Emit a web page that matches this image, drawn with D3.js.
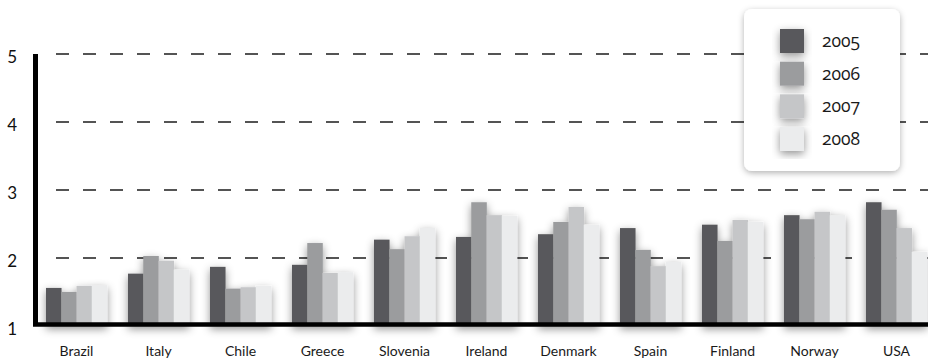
<!DOCTYPE html>
<html>
<head>
<meta charset="utf-8">
<script src="https://cdn.jsdelivr.net/npm/d3@7"></script>
<style>
  html, body { margin: 0; padding: 0; background: #ffffff; }
  svg { display: block; }
</style>
</head>
<body>
<svg id="chart" width="928" height="362"></svg>
<script>
// Countries along the x axis
const countries = ["Brazil", "Italy", "Chile", "Greece", "Slovenia", "Ireland",
                   "Denmark", "Spain", "Finland", "Norway", "USA"];
// Series (one per year)
const years = ["2005", "2006", "2007", "2008"];
const values2005 = [1.56, 1.77, 1.87, 1.90, 2.27, 2.31, 2.35, 2.44, 2.49, 2.63, 2.82];
const values2006 = [1.50, 2.03, 1.55, 2.22, 2.13, 2.82, 2.53, 2.12, 2.25, 2.57, 2.71];
const values2007 = [1.59, 1.96, 1.57, 1.78, 2.32, 2.63, 2.75, 1.88, 2.56, 2.68, 2.44];
const values2008 = [1.60, 1.83, 1.59, 1.79, 2.44, 2.62, 2.49, 1.94, 2.53, 2.63, 2.09];
const yTicks = [1, 2, 3, 4, 5];
const seriesColors = ["#59595b", "#9b9c9e", "#c5c6c8", "#ebeced"];

const seriesValues = [values2005, values2006, values2007, values2008];
const rows = countries.map((c, i) => ({
  country: c,
  vals: years.map((yr, k) => ({ year: yr, value: seriesValues[k][i] }))
}));

const svg = d3.select("#chart");
const W = 928;

const x = d3.scaleBand().domain(countries).range([35.5, 937.5])
  .paddingInner(0.256).paddingOuter(0.128);
const xs = d3.scaleBand().domain(years).range([0, x.bandwidth()]);
const y = d3.scaleLinear().domain([1, 5]).range([326, 54]);
const color = d3.scaleOrdinal().domain(years).range(seriesColors);

// Soft shadows
const defs = svg.append("defs");
const sh = defs.append("filter").attr("id", "barShadow")
  .attr("x", "-30%").attr("y", "-30%").attr("width", "160%").attr("height", "160%");
sh.append("feDropShadow").attr("dx", 0).attr("dy", 3).attr("stdDeviation", 4)
  .attr("flood-color", "#000").attr("flood-opacity", 0.42);
const lsh = defs.append("filter").attr("id", "boxShadow")
  .attr("x", "-20%").attr("y", "-20%").attr("width", "140%").attr("height", "140%");
lsh.append("feDropShadow").attr("dx", 0).attr("dy", 2).attr("stdDeviation", 3)
  .attr("flood-color", "#000").attr("flood-opacity", 0.3);

// Dashed gridlines
svg.append("g").selectAll("line").data(yTicks.slice(1)).join("line")
  .attr("x1", 56).attr("x2", W)
  .attr("y1", d => y(d)).attr("y2", d => y(d))
  .attr("stroke", "#1c1c1c").attr("stroke-width", 1.6)
  .attr("stroke-dasharray", "13,14");

// Bars, one shadowed group per country
const groups = svg.append("g").selectAll("g").data(rows).join("g")
  .attr("transform", d => `translate(${x(d.country)},0)`)
  .attr("filter", "url(#barShadow)");
groups.selectAll("rect").data(d => d.vals).join("rect")
  .attr("x", d => xs(d.year))
  .attr("width", xs.bandwidth() + 0.3)
  .attr("y", d => y(d.value))
  .attr("height", d => y(1) - y(d.value))
  .attr("fill", d => color(d.year));

// Heavy axis lines
svg.append("line")
  .attr("x1", 35.5).attr("x2", 35.5).attr("y1", y(5)).attr("y2", y(1))
  .attr("stroke", "#000").attr("stroke-width", 5);
svg.append("line")
  .attr("x1", 33).attr("x2", W).attr("y1", y(1) - 1.5).attr("y2", y(1) - 1.5)
  .attr("stroke", "#000").attr("stroke-width", 4.5);

// Y labels
const yAxis = d3.axisLeft(y).tickValues(yTicks).tickSize(0).tickPadding(0)
  .tickFormat(d3.format("d"));
const yg = svg.append("g").attr("transform", "translate(17,3.5)").call(yAxis)
  .attr("font-family", "Lato, 'Open Sans', sans-serif").attr("font-size", 17);
yg.select(".domain").remove();
yg.selectAll("text").attr("fill", "#111");

// Category labels
const xAxis = d3.axisBottom(x).tickSize(0).tickPadding(0);
const xg = svg.append("g").attr("transform", "translate(0,345)").call(xAxis)
  .attr("font-family", "Lato, 'Open Sans', sans-serif").attr("font-size", 14);
xg.select(".domain").remove();
xg.selectAll("text").attr("fill", "#1a1a1a").attr("dy", "0.75em");

// Legend
const lg = svg.append("g").attr("transform", "translate(744,9)");
lg.append("rect").attr("width", 156).attr("height", 162).attr("rx", 8)
  .attr("fill", "#fff").attr("filter", "url(#boxShadow)");
const ly = d3.scalePoint().domain(years).range([20, 118]);
const items = lg.selectAll("g.item").data(years).join("g").attr("class", "item")
  .attr("transform", d => `translate(36,${ly(d)})`);
items.append("rect").attr("width", 24).attr("height", 24)
  .attr("fill", d => color(d)).attr("filter", "url(#barShadow)");
items.append("text").attr("x", 42).attr("y", 18)
  .style("font-family", "'Open Sans', sans-serif").style("font-size", "17.5px")
  .style("font-variant-numeric", "oldstyle-nums")
  .style("font-feature-settings", "'onum' 1")
  .attr("fill", "#1a1a1a")
  .text(d => d);
</script>
</body>
</html>
